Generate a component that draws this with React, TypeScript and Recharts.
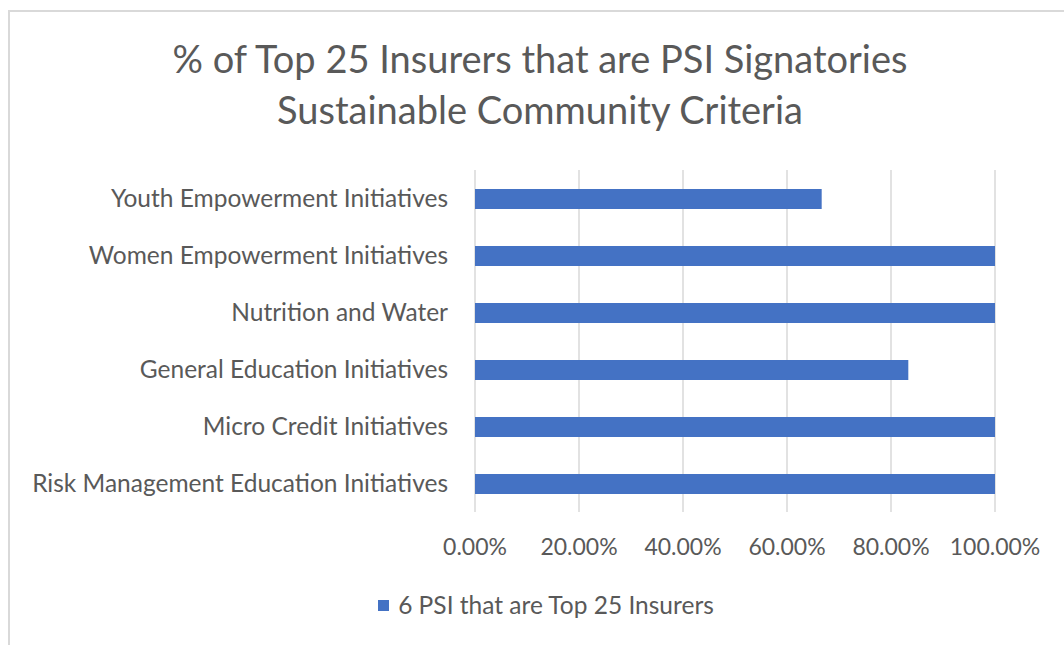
import React from "react";
import { BarChart, Bar, XAxis, YAxis, CartesianGrid } from "recharts";

// values, top row first
const categories = [
  "Youth Empowerment Initiatives",
  "Women Empowerment Initiatives",
  "Nutrition and Water",
  "General Education Initiatives",
  "Micro Credit Initiatives",
  "Risk Management Education Initiatives",
];
const psiShare = [0.6667, 1, 1, 0.8333, 1, 1];
const xTicks = [0, 0.2, 0.4, 0.6, 0.8, 1];
const seriesName = "6 PSI that are Top 25 Insurers";
const titleLines = [
  "% of Top 25 Insurers that are PSI Signatories",
  "Sustainable Community Criteria",
];

const data = categories.map((name, i) => ({ name, value: psiShare[i] }));

const FONT = "Lato, 'Open Sans', sans-serif";
const TEXT = "#595959";
const BLUE = "#4472C4";

export default function App() {
  return (
    <div style={{ position: "absolute", left: 0, top: 0, width: 1064, height: 645, background: "#fff", overflow: "hidden" }}>
      <div
        style={{
          position: "absolute",
          left: 8,
          top: 10,
          width: 1064,
          height: 645,
          borderLeft: "2px solid #d9d9d9",
          borderTop: "2px solid #d9d9d9",
        }}
      />
      <div
        style={{
          position: "absolute",
          left: 8,
          top: 33,
          width: 1064,
          textAlign: "center",
          fontFamily: FONT,
          fontSize: 38,
          lineHeight: "51px",
          color: TEXT,
        }}
      >
        {titleLines.map((t) => (
          <div key={t}>{t}</div>
        ))}
      </div>
      <div style={{ position: "absolute", left: 0, top: 0 }}>
        <BarChart
          width={1064}
          height={645}
          data={data}
          layout="vertical"
          margin={{ top: 170, right: 69, bottom: 103, left: 0 }}
          barSize={20}
        >
          <CartesianGrid horizontal={false} stroke="#d9d9d9" strokeWidth={1.5} />
          <XAxis
            type="number"
            domain={[0, 1]}
            ticks={xTicks}
            tickFormatter={(v: number) => (v * 100).toFixed(2) + "%"}
            axisLine={false}
            tickLine={false}
            tickSize={0}
            tickMargin={27}
            tick={{ fill: TEXT, fontSize: 23, fontFamily: FONT }}
            interval={0}
          />
          <YAxis
            type="category"
            dataKey="name"
            width={475}
            axisLine={false}
            tickLine={false}
            tickSize={0}
            tickMargin={27}
            tick={{ fill: TEXT, fontSize: 24.5, fontFamily: FONT }}
            interval={0}
          />
          <Bar dataKey="value" name={seriesName} fill={BLUE} isAnimationActive={false} />
        </BarChart>
      </div>
      <div
        style={{
          position: "absolute",
          left: 46,
          top: 590,
          width: 1000,
          display: "flex",
          alignItems: "center",
          justifyContent: "center",
          fontFamily: FONT,
          fontSize: 24.5,
          lineHeight: "30px",
          color: TEXT,
        }}
      >
        <span style={{ display: "inline-block", width: 11, height: 11, background: BLUE, marginRight: 9 }} />
        <span>{seriesName}</span>
      </div>
    </div>
  );
}
